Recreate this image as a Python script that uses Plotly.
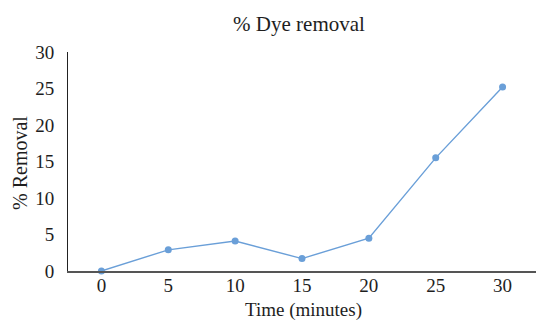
import plotly.graph_objects as go

# Dye removal over time
time_labels = ["0", "5", "10", "15", "20", "25", "30"]
removal_pct = [0, 2.9, 4.1, 1.7, 4.5, 15.5, 25.2]
y_ticks = [0, 5, 10, 15, 20, 25, 30]

serif = "Liberation Serif, Times New Roman, serif"
line_blue = "#6a9fd8"
text_color = "#1e1e1e"

fig = go.Figure()
fig.add_trace(go.Scatter(
    x=time_labels,
    y=removal_pct,
    mode="lines+markers",
    line=dict(color=line_blue, width=1.4),
    marker=dict(color=line_blue, size=7),
    cliponaxis=False,
    showlegend=False,
))

fig.update_layout(
    width=536,
    height=321,
    margin=dict(l=68, r=0, t=52, b=50),
    paper_bgcolor="white",
    plot_bgcolor="white",
    font=dict(family=serif, color=text_color),
    title=dict(
        text="% Dye removal",
        x=299 / 536,
        xanchor="center",
        y=1 - 24 / 321,
        yanchor="middle",
        font=dict(family=serif, size=21, color=text_color),
    ),
    xaxis=dict(
        type="category",
        range=[-0.5, 6.5],
        showgrid=False,
        zeroline=False,
        showline=True,
        linecolor="#555555",
        linewidth=1.6,
        ticks="",
        tickfont=dict(family=serif, size=19, color=text_color),
        ticklabelstandoff=-4,
    ),
    yaxis=dict(
        range=[0, 30],
        tickvals=y_ticks,
        showgrid=False,
        zeroline=False,
        showline=True,
        linecolor="#222222",
        linewidth=1,
        ticks="",
        tickfont=dict(family=serif, size=19, color=text_color),
        ticklabelstandoff=9,
    ),
    annotations=[
        dict(
            text="Time (minutes)",
            xref="paper", yref="paper",
            x=(303 - 68) / 468, y=-(310 - 271) / 219,
            xanchor="center", yanchor="middle",
            showarrow=False,
            font=dict(family=serif, size=19, color=text_color),
        ),
        dict(
            text="% Removal",
            xref="paper", yref="paper",
            x=-(68 - 20) / 468, y=(271 - 163) / 219,
            xanchor="center", yanchor="middle",
            textangle=-90,
            showarrow=False,
            font=dict(family=serif, size=20, color=text_color),
        ),
    ],
)

fig.write_html("out.html")
